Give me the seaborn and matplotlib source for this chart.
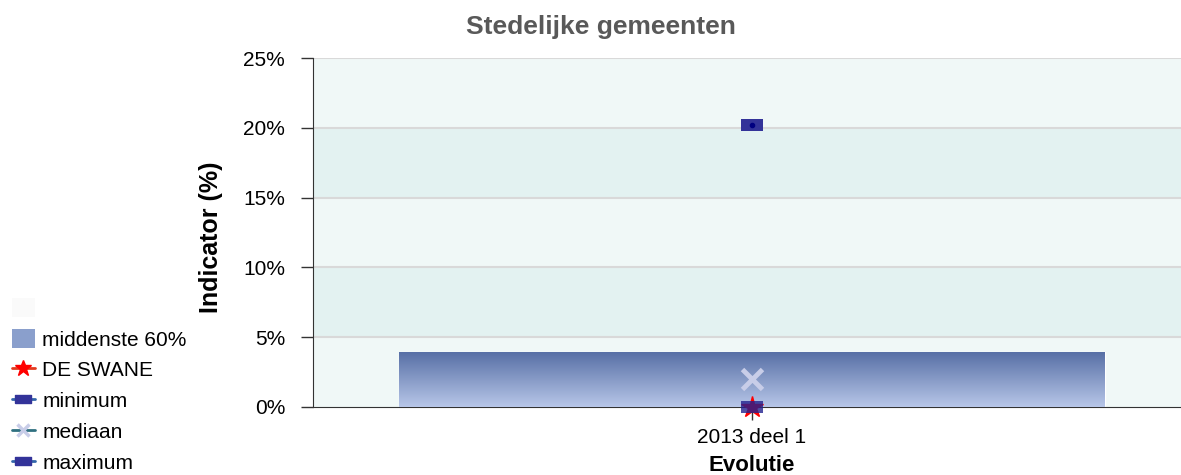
import numpy as np
import pandas as pd
import seaborn as sns
import matplotlib.pyplot as plt
from matplotlib.lines import Line2D
from matplotlib.patches import Patch
from matplotlib.colors import LinearSegmentedColormap

# waarden (in %)
periodes = ["2013 deel 1"]
p20 = [0.0]
p80 = [3.93]
de_swane = [0.0]
minimum = [0.0]
mediaan = [2.0]
maximum = [20.2]
y_ticks = [0, 5, 10, 15, 20, 25]

sns.set_style("white")
plt.rcParams['font.family'] = ['Liberation Sans', 'DejaVu Sans']
plt.rcParams['text.color'] = 'black'
plt.rcParams['axes.labelcolor'] = 'black'
plt.rcParams['xtick.color'] = 'black'
plt.rcParams['ytick.color'] = 'black'

fig = plt.figure(figsize=(11.81, 4.75), dpi=100)
# de grafiek loopt iets voorbij de rechterrand
ax = fig.add_axes([313 / 1181, 1 - 407 / 475, 878 / 1181, 349 / 475])

# achtergrondbanden
for i in range(len(y_ticks) - 1):
    kleur = "#f0f8f7" if i % 2 == 0 else "#e3f2f1"
    ax.axhspan(y_ticks[i], y_ticks[i + 1], color=kleur, zorder=0, lw=0)
for t in y_ticks[1:]:
    ax.axhline(t, color="#d9d9d9", lw=1.5, zorder=1)

df = pd.DataFrame({"periode": periodes, "hoogte": np.array(p80) - np.array(p20)})
sns.barplot(data=df, x="periode", y="hoogte", color="#8497c4", width=0.803,
            ax=ax, zorder=2, saturation=1)

# verloop in de balk
grad = np.linspace(0, 1, 100).reshape(-1, 1)
cmap = LinearSegmentedColormap.from_list("g", ["#b7c6e8", "#5870a6"])
for bar, lo in zip(ax.containers[0], p20):
    x0 = bar.get_x()
    w = bar.get_width()
    h = bar.get_height()
    im = ax.imshow(grad, cmap=cmap, origin="lower", aspect="auto",
                   extent=[x0, x0 + w, lo, lo + h], zorder=3)
    im.set_clip_path(bar)

rechthoek = [(-1, -0.5), (1, -0.5), (1, 0.5), (-1, 0.5), (-1, -0.5)]
x = np.arange(len(periodes))
ax.plot(x, mediaan, ls="none", marker="x", ms=14, mew=3.5, color="#c8cde8", zorder=5)
ax.plot(x, de_swane, ls="none", marker="*", ms=16, color="red", zorder=5, clip_on=False)
ax.plot(x, minimum, ls="none", marker=rechthoek, ms=16, color="#22228f", alpha=0.8,
        mew=0, zorder=6, clip_on=False)
ax.plot(x, maximum, ls="none", marker=rechthoek, ms=16, color="#333399", mew=0, zorder=6)
ax.plot(x, maximum, ls="none", marker="o", ms=3, color="#000080", zorder=7)

ax.set_xlim(-0.5, 0.5)
ax.set_ylim(0, 25)
ax.set_yticks(y_ticks)
ax.set_yticklabels([f"{t}%" for t in y_ticks], fontsize=15)
ax.set_xticks(x)
ax.set_xticklabels(periodes, fontsize=15)
ax.tick_params(axis="both", length=9, color="#333333", width=1, direction="out",
               left=True, bottom=True)
ax.tick_params(axis="y", pad=11)
ax.tick_params(axis="x", pad=6)
ax.set_xlabel("Evolutie", fontsize=16, fontweight="bold", labelpad=6)
ax.set_ylabel("Indicator (%)", fontsize=18, fontweight="bold")
ax.yaxis.set_label_coords(-0.1025, 0.487)
for s in ["top", "right"]:
    ax.spines[s].set_visible(False)
ax.spines["left"].set_color("#333333")
ax.spines["bottom"].set_color("#333333")

fig.text(0.509, 0.943, "Stedelijke gemeenten", ha="center", va="center",
         fontsize=19, fontweight="bold", color="#595959")

handles = [
    Patch(facecolor="#fafafa", edgecolor="none"),
    Patch(facecolor="#8a9fcc", edgecolor="none"),
    Line2D([], [], color="#e23a1e", marker="*", ms=12, mfc="red", mec="red", lw=2),
    Line2D([], [], color="#3366aa", marker=rechthoek, ms=11, mfc="#333399", mec="#333399", lw=2),
    Line2D([], [], color="#2f7080", marker="x", ms=8, mew=2.5, mec="#c8cde8", lw=2),
    Line2D([], [], color="#3366aa", marker=rechthoek, ms=11, mfc="#333399", mec="#333399", lw=2),
]
labels = ["", "middenste 60%", "DE SWANE", "minimum", "mediaan", "maximum"]
fig.legend(handles, labels, loc="lower left", bbox_to_anchor=(12 / 1181, 0.004),
           frameon=False, fontsize=15, handlelength=1.1, handleheight=1.0,
           handletextpad=0.35, labelspacing=0.5, borderpad=0, borderaxespad=0)

fig.savefig("out.png", dpi=100)
